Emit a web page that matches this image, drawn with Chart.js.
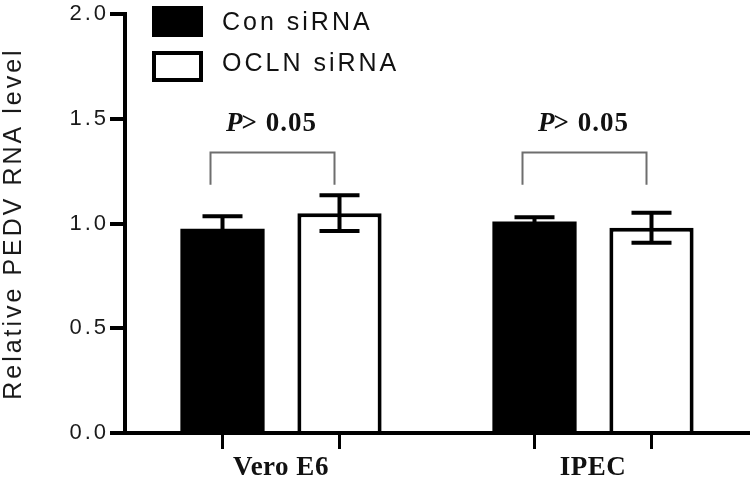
<!DOCTYPE html>
<html>
<head>
<meta charset="utf-8">
<script src="https://cdn.jsdelivr.net/npm/chart.js@4.4.1/dist/chart.umd.min.js"></script>
<style>
    body { margin: 0; background: #fff; }
    #wrap { width: 750px; height: 482px; position: relative; }
</style>
</head>
<body>
<div id="wrap"><canvas id="myChart"></canvas></div>
<script>
// Data
const cells = ["Vero E6", "IPEC"];
const conSiRNA = [0.975, 1.01];
const conErr = [0.06, 0.02];
const oclnSiRNA = [1.05, 0.98];
const oclnErr = [0.085, 0.072];
const yTicks = ["0.0", "0.5", "1.0", "1.5", "2.0"];
const pLabels = ["> 0.05", "> 0.05"];

const errors = [conErr, oclnErr];

// Bracket heights in axis units
const bracketTop = 1.34;
const bracketLeg = 1.185;
const pTextY = 1.475;

const sansFont = "\"Liberation Sans\", Arial, sans-serif";
const serifFont = "\"Liberation Serif\", \"Times New Roman\", serif";

// Plugin: error bars, x tick marks under bars, P brackets and legend
const extras = {
    id: "extras",
    beforeDraw(chart) {
        chart.ctx.letterSpacing = "3px"; // the sans text in the figure is widely spaced
    },
    afterDatasetsDraw(chart) {
        const ctx = chart.ctx;
        const y = chart.scales.y;
        const bottom = chart.chartArea.bottom;
        ctx.save();

        // error bars
        ctx.strokeStyle = "#000";
        ctx.lineWidth = 4;
        chart.data.datasets.forEach((ds, i) => {
            const meta = chart.getDatasetMeta(i);
            meta.data.forEach((bar, j) => {
                const hi = y.getPixelForValue(ds.data[j] + errors[i][j]);
                const lo = y.getPixelForValue(ds.data[j] - errors[i][j]);
                ctx.beginPath();
                ctx.moveTo(bar.x, hi);
                ctx.lineTo(bar.x, lo);
                ctx.moveTo(bar.x - 20, hi);
                ctx.lineTo(bar.x + 20, hi);
                ctx.moveTo(bar.x - 20, lo);
                ctx.lineTo(bar.x + 20, lo);
                ctx.stroke();

                // tick mark under each bar
                ctx.save();
                ctx.lineWidth = 3;
                ctx.beginPath();
                ctx.moveTo(bar.x, bottom);
                ctx.lineTo(bar.x, bottom + 16);
                ctx.stroke();
                ctx.restore();
            });
        });

        // legend (sans, spaced)
        const ds = chart.data.datasets;
        ctx.fillStyle = ds[0].backgroundColor;
        ctx.fillRect(152, 6, 51, 31);
        ctx.fillStyle = ds[1].backgroundColor;
        ctx.fillRect(152, 51, 51, 31);
        ctx.strokeStyle = "#000";
        ctx.lineWidth = 4;
        ctx.strokeRect(154, 53, 47, 27);
        ctx.fillStyle = "#111";
        ctx.font = "25px " + sansFont;
        ctx.textAlign = "left";
        ctx.textBaseline = "middle";
        ctx.fillText(ds[0].label, 222, 23);
        ctx.fillText(ds[1].label, 222, 64);

        // P value brackets (serif, tight)
        ctx.letterSpacing = "1px";
        const m0 = chart.getDatasetMeta(0);
        const m1 = chart.getDatasetMeta(1);
        cells.forEach((c, j) => {
            const x1 = m0.data[j].x - 12;
            const x2 = m1.data[j].x - 5;
            const yt = y.getPixelForValue(bracketTop);
            const yl = y.getPixelForValue(bracketLeg);
            ctx.strokeStyle = "#6e6e6e";
            ctx.lineWidth = 2;
            ctx.beginPath();
            ctx.moveTo(x1, yl);
            ctx.lineTo(x1, yt);
            ctx.lineTo(x2, yt);
            ctx.lineTo(x2, yl);
            ctx.stroke();

            const cx = (x1 + x2) / 2;
            const ty = y.getPixelForValue(pTextY);
            ctx.fillStyle = "#111";
            ctx.textBaseline = "middle";
            ctx.textAlign = "left";
            ctx.font = "italic bold 27px " + serifFont;
            const wP = ctx.measureText("P").width;
            ctx.font = "bold 27px " + serifFont;
            const wR = ctx.measureText(pLabels[j]).width;
            const start = cx - (wP + wR) / 2;
            ctx.font = "italic bold 27px " + serifFont;
            ctx.fillText("P", start, ty);
            ctx.font = "bold 27px " + serifFont;
            ctx.fillText(pLabels[j], start + wP - 2, ty);
        });

        ctx.restore();
        // x labels are drawn after this point (ticks z: 1), keep them tight
        ctx.letterSpacing = "0.5px";
    }
};

const ctx = document.getElementById("myChart").getContext("2d");
const myChart = new Chart(ctx, {
    type: "bar",
    data: {
        labels: cells,
        datasets: [
            { label: "Con siRNA", data: conSiRNA, backgroundColor: "#000", borderWidth: 0 },
            { label: "OCLN siRNA", data: oclnSiRNA, backgroundColor: "#fff", borderColor: "#000", borderWidth: 4 }
        ]
    },
    options: {
        responsive: true,
        maintainAspectRatio: false,
        animation: false,
        categoryPercentage: 0.75,
        barPercentage: 0.72,
        layout: { padding: { top: 13, right: 1, left: 0, bottom: 0 } },
        plugins: {
            legend: { display: false },
            tooltip: { enabled: false }
        },
        scales: {
            x: {
                grid: { display: false, drawTicks: false },
                border: { color: "#000", width: 4 },
                ticks: {
                    z: 1,
                    color: "#111",
                    padding: 19,
                    font: { family: serifFont, size: 27, weight: "bold" }
                },
                afterFit(scale) { scale.height = 49; }
            },
            y: {
                min: 0,
                max: 2,
                grid: { drawOnChartArea: false, color: "#000", lineWidth: 4, tickLength: 15 },
                border: { color: "#000", width: 4 },
                ticks: {
                    stepSize: 0.5,
                    color: "#1a1a1a",
                    padding: 1,
                    font: { family: sansFont, size: 22 },
                    callback: (v, i) => yTicks[i]
                },
                title: {
                    display: true,
                    text: "Relative PEDV RNA level",
                    color: "#1a1a1a",
                    padding: 0,
                    font: { family: sansFont, size: 25, lineHeight: 1.1 }
                },
                afterFit(scale) { scale.width = 125; }
            }
        }
    },
    plugins: [extras]
});
</script>
</body>
</html>
